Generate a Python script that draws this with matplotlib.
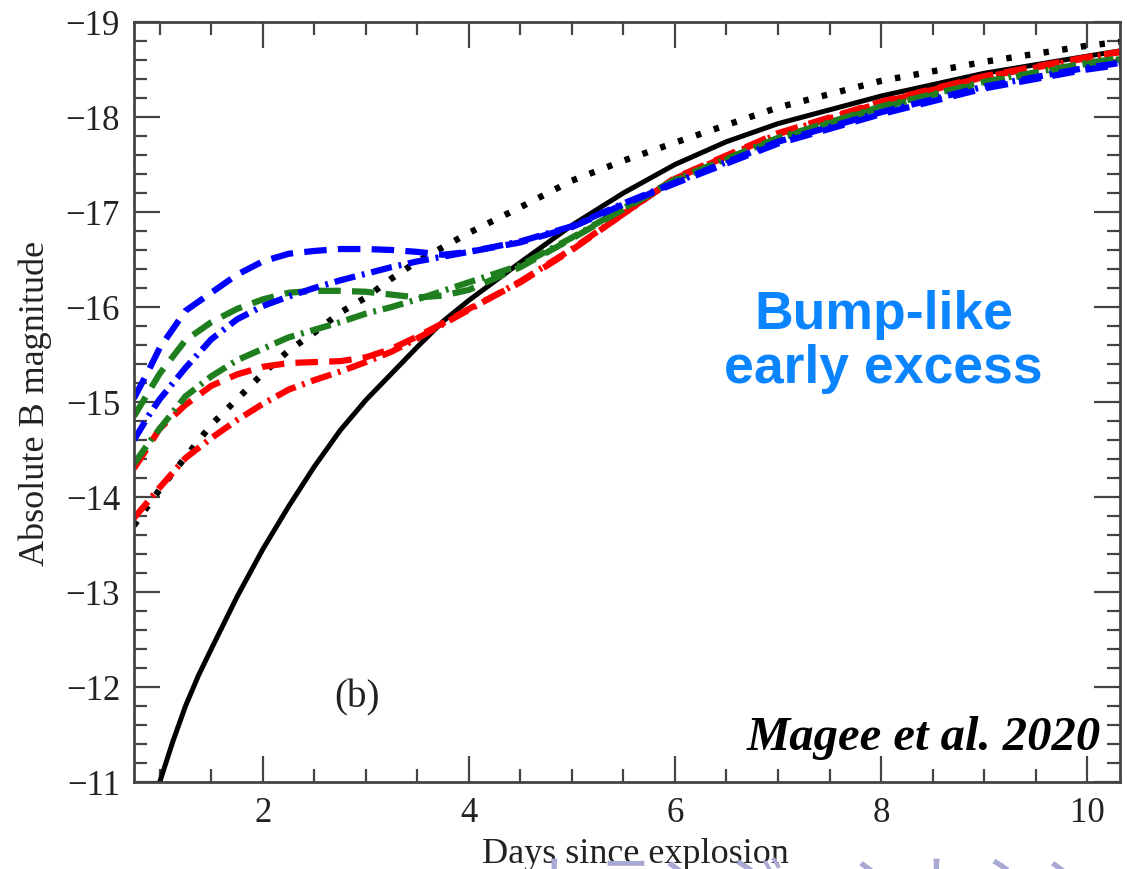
import matplotlib
matplotlib.use('Agg')
import matplotlib.pyplot as plt
from matplotlib.ticker import MultipleLocator

# days since explosion (shared grid for the model curves)
days = [0.75, 0.9, 1.0, 1.25, 1.5, 1.75, 2.0, 2.25, 2.5, 2.75, 3.0, 3.25, 3.5,
        3.75, 4.0, 4.5, 5.0, 5.5, 6.0, 7.0, 8.0, 9.0, 10.0, 10.4]

blue_dash = [15.04, 15.35, 15.57, 15.96, 16.15, 16.34, 16.48, 16.56, 16.59, 16.61, 16.61, 16.6,
             16.58, 16.55, 16.58, 16.68, 16.84, 17.08, 17.3, 17.72, 18.03, 18.3, 18.5, 18.56]
blue_dashdot = [14.6, 14.87, 15.03, 15.36, 15.66, 15.87, 16.01, 16.11, 16.2, 16.28, 16.35, 16.42,
                16.48, 16.53, 16.58, 16.69, 16.85, 17.09, 17.31, 17.74, 18.05, 18.32, 18.52, 18.58]
green_dash = [14.85, 15.12, 15.3, 15.65, 15.84, 15.98, 16.08, 16.15, 16.17, 16.17, 16.16, 16.13,
              16.1, 16.12, 16.18, 16.42, 16.72, 17.03, 17.33, 17.77, 18.1, 18.36, 18.56, 18.62]
green_dashdot = [14.35, 14.58, 14.72, 15.06, 15.27, 15.44, 15.56, 15.68, 15.76, 15.84, 15.93, 16.0,
                 16.08, 16.17, 16.26, 16.44, 16.73, 17.04, 17.34, 17.78, 18.11, 18.37, 18.57, 18.63]
red_dash = [14.3, 14.55, 14.72, 14.97, 15.17, 15.29, 15.37, 15.41, 15.42, 15.43, 15.47, 15.56,
            15.69, 15.83, 15.98, 16.26, 16.6, 16.98, 17.36, 17.83, 18.16, 18.43, 18.63, 18.7]
red_dashdot = [13.78, 13.97, 14.1, 14.41, 14.62, 14.81, 14.98, 15.13, 15.23, 15.32, 15.42, 15.53,
               15.67, 15.82, 15.97, 16.27, 16.61, 16.98, 17.35, 17.82, 18.15, 18.42, 18.62, 18.7]
black_dot = [13.7, 13.93, 14.08, 14.42, 14.76, 15.03, 15.3, 15.54, 15.73, 15.94, 16.1, 16.3,
             16.48, 16.63, 16.78, 17.05, 17.33, 17.54, 17.73, 18.1, 18.38, 18.58, 18.75, 18.8]

# normal (no-excess) model
days_solid = [1.0, 1.125, 1.25, 1.375, 1.5, 1.75, 2.0, 2.25, 2.5, 2.75, 3.0, 3.25, 3.5, 3.75, 4.0,
              4.5, 5.0, 5.5, 6.0, 6.5, 7.0, 8.0, 9.0, 10.0, 10.4]
black_solid = [11.0, 11.42, 11.8, 12.12, 12.4, 12.95, 13.45, 13.9, 14.32, 14.7, 15.02, 15.3, 15.58,
               15.85, 16.07, 16.47, 16.86, 17.2, 17.5, 17.74, 17.93, 18.22, 18.46, 18.64, 18.71]

serif = 'Liberation Serif'

fig = plt.figure(figsize=(11.27, 8.70), dpi=100)
ax = fig.add_axes([0.1189, 0.1, 0.8750, 0.8736])

neg = lambda v: [-x for x in v]

lw = 4.5
dashdot = (3.4, 1.1, 0.45, 1.1)
ax.plot(days, neg(black_dot), color='black', lw=4.6, dashes=(0.85, 2.1))
ax.plot(days_solid, neg(black_solid), color='black', lw=3.6)
ax.plot(days, neg(red_dashdot), color='#ff0000', lw=lw, dashes=dashdot)
ax.plot(days, neg(red_dash), color='#ff0000', lw=lw, dashes=(3.6, 1.8))
ax.plot(days, neg(green_dashdot), color='#1f7f1f', lw=lw, dashes=dashdot)
ax.plot(days, neg(green_dash), color='#1f7f1f', lw=lw, dashes=(3.6, 1.8))
ax.plot(days, neg(blue_dashdot), color='#0000ff', lw=lw, dashes=dashdot)
ax.plot(days, neg(blue_dash), color='#0000ff', lw=lw, dashes=(3.6, 1.8))

ax.set_xlim(0.75, 10.32)
ax.set_ylim(-11, -19)

ax.xaxis.set_major_locator(MultipleLocator(2))
ax.xaxis.set_minor_locator(MultipleLocator(0.5))
ax.yaxis.set_major_locator(MultipleLocator(1))
ax.yaxis.set_minor_locator(MultipleLocator(0.2))
ax.tick_params(which='both', direction='in', top=True, right=True, color='#444444', width=1.6)
ax.tick_params(which='major', length=19, labelsize=25, pad=10, labelcolor='#222222')
ax.tick_params(which='minor', length=9.5)
for lab in ax.get_xticklabels() + ax.get_yticklabels():
    lab.set_family(serif)
for sp in ax.spines.values():
    sp.set_color('#444444')
    sp.set_linewidth(2)

ax.set_xlabel('Days since explosion', family=serif, fontsize=26, color='#222222')
ax.xaxis.set_label_coords(0.508, -0.072)
ax.set_ylabel('Absolute B magnitude', family=serif, fontsize=26, color='#222222')
ax.yaxis.set_label_coords(-0.083, 0.5)

ax.text(2.915, -11.9, '(b)', family=serif, fontsize=28, ha='center', va='center', color='#222222')
ax.text(0.98, 0.043, 'Magee et al. 2020', transform=ax.transAxes, family=serif,
        fontsize=35, fontweight='bold', fontstyle='italic', ha='right', va='baseline')
ax.text(0.76, 0.58, 'Bump-like\nearly excess', transform=ax.transAxes, family='Liberation Sans',
        fontsize=38.5, fontweight='bold', color='#0a84ff', ha='center', va='center', linespacing=1.1)

# slide watermark, cut off by the bottom edge
fig.text(0.47, -0.06, 'トランジェントシンポジウム', family=['Noto Sans CJK JP', 'DejaVu Sans'],
         fontsize=46, color='#a9a9d6', ha='left', va='bottom')

plt.savefig('out.png', dpi=100)
